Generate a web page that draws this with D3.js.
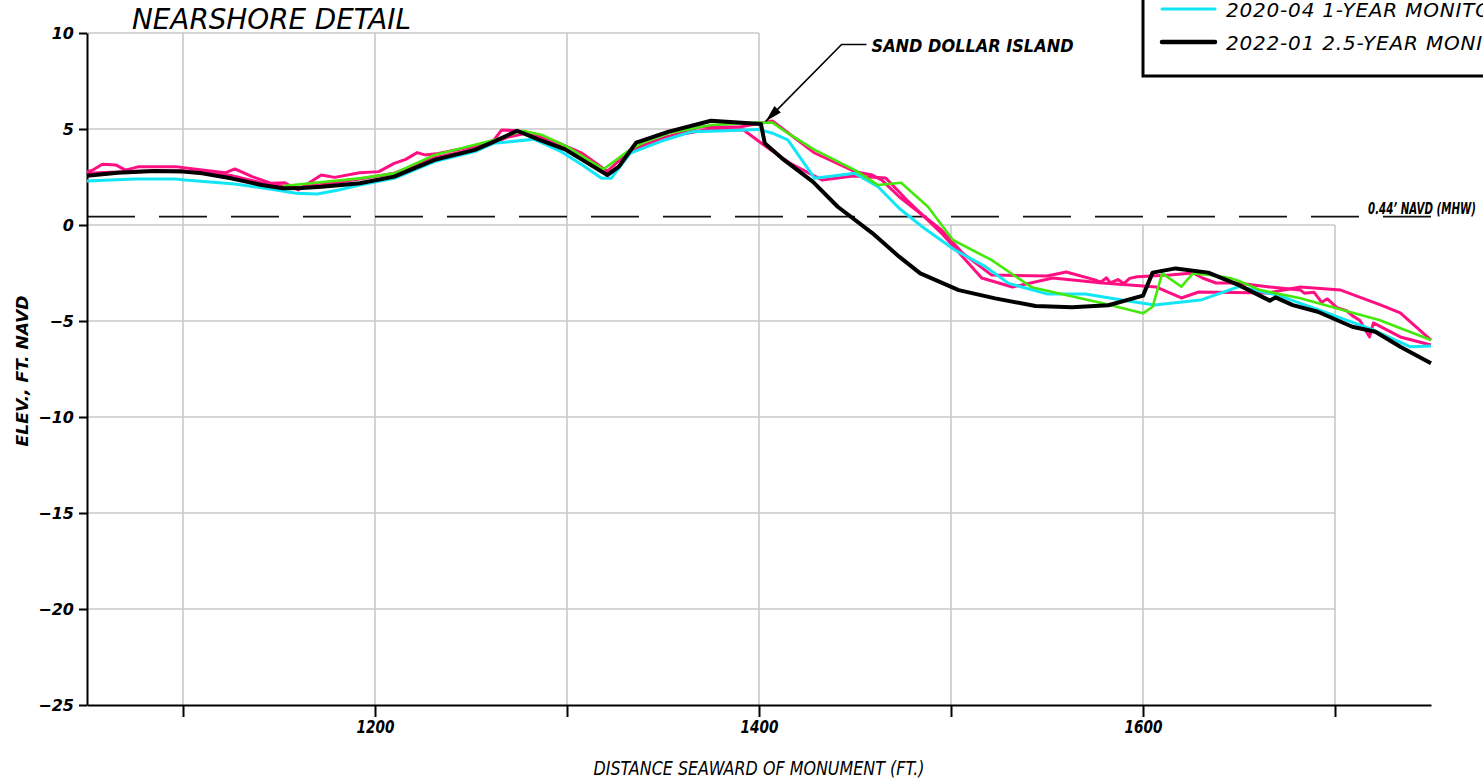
<!DOCTYPE html>
<html>
<head>
<meta charset="utf-8">
<script src="https://cdn.jsdelivr.net/npm/d3@7"></script>
<style>
  html, body { margin: 0; padding: 0; background: #fff; }
  svg { display: block; }
  .cad { font-family: "DejaVu Sans", sans-serif; font-style: italic; }
</style>
</head>
<body>
<svg id="chart" width="1483" height="779"></svg>
<script>
// Beach profile surveys: [distance seaward of monument (ft), elevation (ft NAVD)]
const surveyPinkA = [
  [1050, 2.78], [1053, 2.86], [1058, 3.16], [1065, 3.13], [1070, 2.86], [1077, 3.04],
  [1096, 3.04], [1110, 2.86], [1122, 2.72], [1127, 2.92], [1136, 2.52], [1146, 2.17],
  [1153, 2.20], [1160, 1.82], [1172, 2.60], [1179, 2.48], [1192, 2.72], [1202, 2.78],
  [1210, 3.21], [1216, 3.42], [1222, 3.77], [1226, 3.65], [1233, 3.73], [1242, 3.91],
  [1256, 4.17], [1262, 4.43], [1266, 4.95], [1274, 4.91], [1285, 4.69], [1294, 4.34],
  [1308, 3.73], [1320, 2.86], [1325, 2.78], [1333, 3.82], [1351, 4.53], [1369, 5.10],
  [1390, 5.10], [1407, 5.42], [1429, 3.75], [1450, 2.78], [1459, 2.60], [1464, 2.34],
  [1473, 1.47], [1495, -0.26], [1506, -1.46], [1521, -2.60], [1550, -2.66], [1560, -2.45],
  [1575, -2.86], [1578, -2.98], [1581, -2.75], [1583, -3.02], [1587, -2.84], [1590, -3.05],
  [1593, -2.78], [1597, -2.70], [1614, -2.60], [1626, -2.50], [1631, -2.76], [1638, -3.02],
  [1649, -3.02], [1666, -3.23], [1682, -3.39], [1684, -3.55], [1689, -3.50], [1693, -4.02],
  [1696, -3.85], [1701, -4.30], [1706, -4.46], [1709, -4.72], [1713, -4.98], [1716, -5.50],
  [1718, -5.83], [1720, -5.10], [1734, -5.83], [1750, -6.25]
];

const surveyPinkB = [
  [1050, 2.70], [1075, 2.80], [1100, 2.82], [1125, 2.58], [1145, 2.10], [1160, 1.95],
  [1175, 2.15], [1192, 2.40], [1210, 2.70], [1231, 3.50], [1252, 3.95], [1270, 4.60],
  [1280, 4.80], [1300, 4.00], [1320, 2.70], [1333, 3.90], [1352, 4.60], [1375, 5.00],
  [1392, 4.95], [1404, 4.06], [1416, 3.23], [1433, 2.34], [1449, 2.55], [1466, 2.45],
  [1477, 1.30], [1495, -0.42], [1516, -2.76], [1532, -3.23], [1553, -2.76], [1579, -3.02],
  [1607, -3.23], [1620, -3.80], [1629, -3.49], [1665, -3.54], [1682, -3.23], [1703, -3.39],
  [1724, -4.17], [1734, -4.58], [1750, -5.99]
];

const surveyGreen = [
  [1152, 2.03], [1192, 2.43], [1210, 2.69], [1231, 3.65], [1262, 4.43], [1277, 4.91],
  [1287, 4.69], [1300, 4.08], [1319, 2.90], [1333, 3.94], [1341, 4.34], [1353, 4.78],
  [1375, 5.21], [1399, 5.33], [1407, 5.33], [1415, 4.78], [1429, 3.91], [1450, 2.86],
  [1462, 2.08], [1474, 2.20], [1488, 0.95], [1501, -0.78], [1521, -1.82], [1542, -3.24],
  [1579, -4.08], [1600, -4.60], [1605, -4.26], [1610, -2.52], [1620, -3.21], [1626, -2.52],
  [1635, -2.60], [1646, -2.78], [1650, -2.92], [1661, -3.39], [1682, -3.82], [1704, -4.43],
  [1723, -4.95], [1750, -5.99]
];

const surveyCyan = [
  [1050, 2.29], [1075, 2.40], [1096, 2.40], [1101, 2.34], [1127, 2.14], [1146, 1.86],
  [1159, 1.65], [1170, 1.61], [1181, 1.82], [1192, 2.08], [1210, 2.43], [1231, 3.30],
  [1252, 3.82], [1262, 4.26], [1283, 4.46], [1297, 3.82], [1308, 3.13], [1318, 2.43],
  [1323, 2.43], [1333, 3.75], [1335, 3.82], [1351, 4.43], [1365, 4.86], [1382, 4.91],
  [1400, 4.98], [1407, 4.78], [1415, 4.43], [1429, 2.43], [1450, 2.69], [1462, 1.99],
  [1473, 0.87], [1485, -0.09], [1502, -1.30], [1518, -2.17], [1530, -3.04], [1550, -3.59],
  [1570, -3.59], [1589, -3.91], [1606, -4.17], [1630, -3.91], [1650, -3.21], [1670, -3.65],
  [1692, -4.43], [1706, -4.95], [1720, -5.47], [1739, -6.34], [1750, -6.30]
];

const surveyBlack = [
  [1050, 2.57], [1066, 2.72], [1085, 2.81], [1100, 2.78], [1110, 2.69], [1125, 2.43],
  [1141, 2.08], [1152, 1.91], [1162, 1.93], [1172, 1.99], [1181, 2.07], [1192, 2.17],
  [1210, 2.52], [1231, 3.39], [1252, 3.91], [1262, 4.34], [1274, 4.91], [1285, 4.46],
  [1299, 3.94], [1311, 3.21], [1321, 2.60], [1327, 3.04], [1336, 4.29], [1353, 4.86],
  [1375, 5.43], [1401, 5.26], [1403, 4.26], [1413, 3.39], [1428, 2.26], [1441, 0.95],
  [1459, -0.42], [1473, -1.65], [1484, -2.52], [1504, -3.39], [1523, -3.82], [1544, -4.22],
  [1563, -4.29], [1582, -4.18], [1600, -3.68], [1605, -2.48], [1617, -2.26], [1634, -2.48],
  [1650, -3.13], [1666, -3.94], [1669, -3.77], [1678, -4.17], [1691, -4.52], [1709, -5.30],
  [1721, -5.56], [1734, -6.34], [1750, -7.20]
];

// Axis ticks
const yTicks = [10, 5, 0, -5, -10, -15, -20, -25];
const xTicks = [1100, 1200, 1300, 1400, 1500, 1600, 1700];
const xTickLabels = [1200, 1400, 1600];

// Legend entries shown in the key
const legendLabels = ["2020-04  1-YEAR  MONITORING", "2022-01  2.5-YEAR  MONITORING"];

// Mean high water reference
const mhwElevation = 0.44;
const mhwLabel = "0.44\u2019 NAVD (MHW)";

// Callout
const calloutText = "SAND DOLLAR ISLAND";
const calloutPath = [[1403.5, 5.4], [1443, 9.4], [1456, 9.4]];

const svg = d3.select("#chart");

const x = d3.scaleLinear().domain([1050, 1750]).range([87, 1431]);
const y = d3.scaleLinear().domain([-25, 10]).range([705, 33]);

// Grid: the upper block stops at 1400 ft, the lower block runs to 1700 ft
const grid = svg.append("g").attr("stroke", "#c8c8c8").attr("stroke-width", 1.6).attr("fill", "none");
yTicks.filter(v => v > -25).forEach(v => {
  const xEnd = v > 0 ? 1400 : 1700;
  grid.append("line").attr("x1", x(1050)).attr("x2", x(xEnd)).attr("y1", y(v)).attr("y2", y(v));
});
xTicks.forEach(v => {
  const yTop = v <= 1400 ? 10 : 0;
  grid.append("line").attr("x1", x(v)).attr("x2", x(v)).attr("y1", y(yTop)).attr("y2", y(-25));
});

// MHW dashed line
svg.append("line")
  .attr("x1", x(1050)).attr("x2", x(1750))
  .attr("y1", y(mhwElevation)).attr("y2", y(mhwElevation))
  .attr("stroke", "#111").attr("stroke-width", 1.8)
  .attr("stroke-dasharray", "48 24");

svg.append("text")
  .attr("class", "cad")
  .attr("x", 1476).attr("y", y(mhwElevation) - 3)
  .attr("text-anchor", "end")
  .attr("font-size", 15).attr("font-weight", "bold")
  .attr("textLength", 108).attr("lengthAdjust", "spacingAndGlyphs")
  .text(mhwLabel);

// Axes
const yAxis = d3.axisLeft(y).tickValues(yTicks).tickSize(8).tickSizeOuter(0)
  .tickFormat(d => d < 0 ? "\u2212" + Math.abs(d) : String(d));
const gy = svg.append("g").attr("transform", `translate(${x(1050)},0)`).call(yAxis);
gy.select(".domain").attr("stroke", "#000").attr("stroke-width", 2);
gy.selectAll(".tick line").attr("stroke", "#000").attr("stroke-width", 2);
gy.selectAll(".tick text")
  .attr("class", "cad").attr("font-size", 16).attr("font-weight", "bold")
  .attr("x", -13).attr("fill", "#000");

const xAxis = d3.axisBottom(x).tickValues(xTicks).tickSize(12).tickSizeOuter(0)
  .tickFormat(d => xTickLabels.includes(d) ? String(d) : "");
const gx = svg.append("g").attr("transform", `translate(0,${y(-25)})`).call(xAxis);
gx.select(".domain").attr("stroke", "#000").attr("stroke-width", 2);
gx.selectAll(".tick line").attr("stroke", "#000").attr("stroke-width", 2);
gx.selectAll(".tick text")
  .attr("class", "cad").attr("font-size", 17).attr("font-weight", "bold")
  .attr("textLength", 38).attr("lengthAdjust", "spacingAndGlyphs")
  .attr("y", 16).attr("fill", "#000");

// Survey profiles
const line = d3.line().x(d => x(d[0])).y(d => y(d[1]));
const profiles = [
  { data: surveyPinkA, color: "#ff0f82", width: 3 },
  { data: surveyPinkB, color: "#ff0f82", width: 3 },
  { data: surveyCyan, color: "#12e6f6", width: 3 },
  { data: surveyGreen, color: "#44e80a", width: 2.6 },
  { data: surveyBlack, color: "#000000", width: 4 }
];
svg.append("g").selectAll("path").data(profiles).join("path")
  .attr("d", d => line(d.data))
  .attr("fill", "none")
  .attr("stroke", d => d.color)
  .attr("stroke-width", d => d.width)
  .attr("stroke-linejoin", "round");

// Callout with arrow
const tip = [x(calloutPath[0][0]), y(calloutPath[0][1])];
const elbow = [x(calloutPath[1][0]), y(calloutPath[1][1])];
const shoulder = [x(calloutPath[2][0]), y(calloutPath[2][1])];
svg.append("polyline")
  .attr("points", [tip, elbow, shoulder].map(p => p.join(",")).join(" "))
  .attr("fill", "none").attr("stroke", "#000").attr("stroke-width", 1.6);
const ang = Math.atan2(elbow[1] - tip[1], elbow[0] - tip[0]);
const aLen = 17, aHalf = 4.5;
const bx = tip[0] + aLen * Math.cos(ang), by = tip[1] + aLen * Math.sin(ang);
svg.append("path")
  .attr("d", `M${tip[0]},${tip[1]}L${bx - aHalf * Math.sin(ang)},${by + aHalf * Math.cos(ang)}L${bx + aHalf * Math.sin(ang)},${by - aHalf * Math.cos(ang)}Z`)
  .attr("fill", "#000");
svg.append("text")
  .attr("class", "cad")
  .attr("x", shoulder[0] + 5).attr("y", shoulder[1] + 7)
  .attr("font-size", 17).attr("font-weight", "bold").attr("font-style", "normal")
  .attr("textLength", 202).attr("lengthAdjust", "spacingAndGlyphs")
  .text(calloutText);

// Title
svg.append("text")
  .attr("class", "cad")
  .attr("x", 132).attr("y", 29)
  .attr("font-size", 29).attr("font-weight", 200)
  .attr("textLength", 279).attr("lengthAdjust", "spacingAndGlyphs")
  .text("NEARSHORE  DETAIL");

// Axis titles
svg.append("text")
  .attr("class", "cad")
  .attr("transform", `translate(28,${(y(-25) + y(10)) / 2 + 2}) rotate(-90)`)
  .attr("text-anchor", "middle")
  .attr("font-size", 16).attr("font-weight", "bold")
  .attr("textLength", 151).attr("lengthAdjust", "spacingAndGlyphs")
  .text("ELEV.,  FT.  NAVD");

svg.append("text")
  .attr("class", "cad")
  .attr("x", (x(1050) + x(1750)) / 2).attr("y", 775)
  .attr("text-anchor", "middle")
  .attr("font-size", 19)
  .attr("textLength", 331).attr("lengthAdjust", "spacingAndGlyphs")
  .text("DISTANCE  SEAWARD  OF  MONUMENT  (FT.)");

// Legend (key box anchored to the upper right corner)
const legend = svg.append("g");
legend.append("rect")
  .attr("x", 1143).attr("y", -20).attr("width", 400).attr("height", 96)
  .attr("fill", "#fff").attr("stroke", "#000").attr("stroke-width", 3);
const legendItems = [
  { label: legendLabels[0], color: "#12e6f6", width: 3, ly: 9 },
  { label: legendLabels[1], color: "#000000", width: 4.5, ly: 42 }
];
legendItems.forEach(it => {
  legend.append("line")
    .attr("x1", 1162).attr("x2", 1215).attr("y1", it.ly).attr("y2", it.ly)
    .attr("stroke", it.color).attr("stroke-width", it.width).attr("stroke-linecap", "round");
  legend.append("text")
    .attr("class", "cad")
    .attr("x", 1226).attr("y", it.ly + 8)
    .attr("font-size", 20).attr("font-weight", 200)
    .attr("letter-spacing", 0.8)
    .text(it.label);
});
</script>
</body>
</html>
